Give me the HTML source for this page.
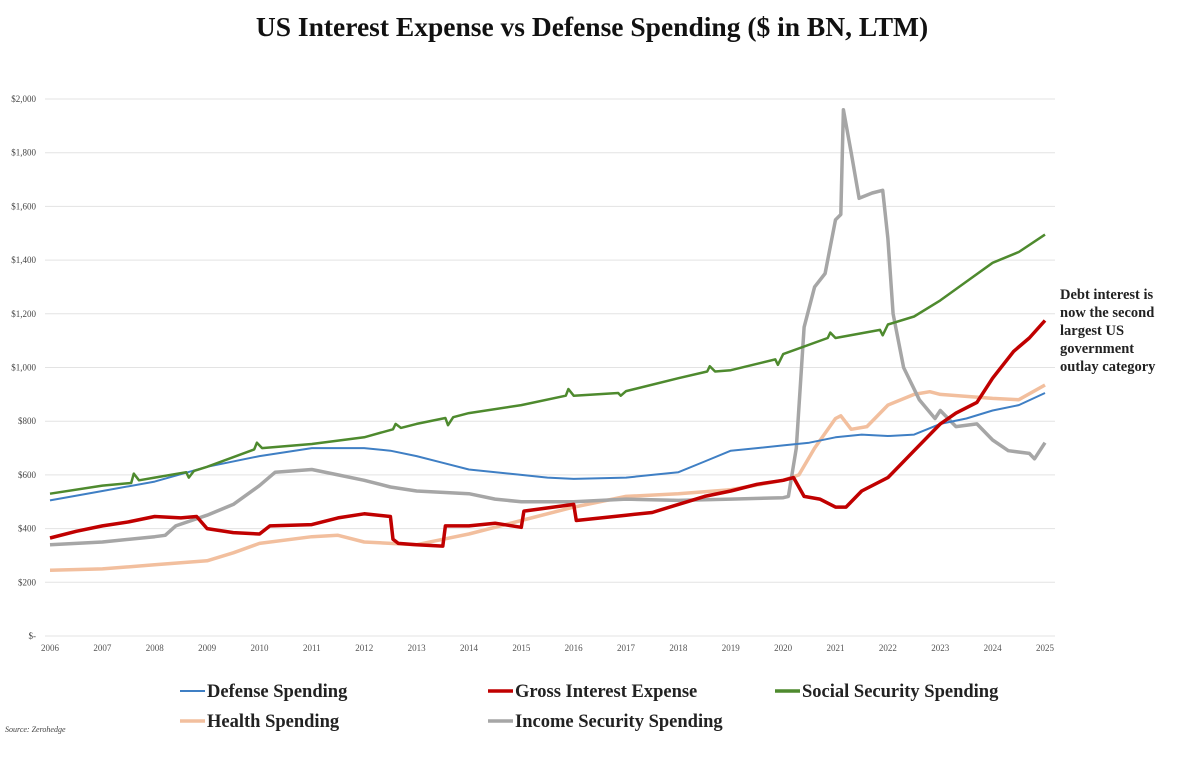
<!DOCTYPE html>
<html><head><meta charset="utf-8"><style>
body{margin:0;background:#fff;}
svg text{font-family:"Liberation Serif",serif;}
</style></head><body>
<svg width="1182" height="766" xmlns="http://www.w3.org/2000/svg">
<text x="592" y="36" text-anchor="middle" font-size="27.5" font-weight="bold" fill="#111">US Interest Expense vs Defense Spending ($ in BN, LTM)</text>
<g id="grid"></g><g id="yticks"></g><g id="xticks"></g><g id="series"></g>
<g font-size="14.5" font-weight="bold" fill="#222">
<text x="1060" y="299">Debt interest is</text><text x="1060" y="317">now the second</text><text x="1060" y="335">largest US</text><text x="1060" y="353">government</text><text x="1060" y="371">outlay category</text></g>
<g id="legend" font-size="18.5" font-weight="bold" fill="#222"></g>
<text x="5" y="732" font-size="8" font-style="italic" fill="#444">Source: Zerohedge</text>
</svg>
<script>
const yTickVals=[0,200,400,600,800,1000,1200,1400,1600,1800,2000];
const yTickLabels=["$-","$200","$400","$600","$800","$1,000","$1,200","$1,400","$1,600","$1,800","$2,000"];
const xTickYears=[2006,2007,2008,2009,2010,2011,2012,2013,2014,2015,2016,2017,2018,2019,2020,2021,2022,2023,2024,2025];
const defenseT=[2006,2007,2008,2009,2010,2010.5,2011,2012,2012.5,2013,2013.5,2014,2015,2015.5,2016,2017,2017.5,2018,2018.5,2019,2019.5,2020,2020.5,2021,2021.5,2022,2022.5,2023,2023.5,2024,2024.5,2025];
const defenseV=[505,540,575,630,670,685,700,700,690,670,645,620,600,590,585,590,600,610,650,690,700,710,720,740,750,745,750,790,810,840,860,905];
const socialT=[2006,2007,2007.55,2007.6,2007.7,2008,2008.6,2008.65,2008.75,2009,2009.9,2009.95,2010.05,2011,2012,2012.55,2012.6,2012.7,2013,2013.55,2013.6,2013.7,2014,2015,2015.85,2015.9,2016,2016.85,2016.9,2017,2018,2018.55,2018.6,2018.7,2019,2019.85,2019.9,2020,2020.85,2020.9,2021,2021.85,2021.9,2022,2022.5,2023,2023.5,2024,2024.5,2025];
const socialV=[530,560,570,605,580,590,610,590,615,630,695,720,700,715,740,770,790,775,790,812,785,815,830,860,895,920,895,905,895,912,960,985,1005,985,990,1030,1010,1050,1110,1130,1110,1140,1120,1160,1190,1250,1320,1390,1430,1495];
const interestT=[2006,2006.5,2007,2007.5,2008,2008.5,2008.8,2009,2009.5,2010,2010.2,2011,2011.5,2012,2012.5,2012.55,2012.65,2013,2013.5,2013.55,2014,2014.5,2015,2015.05,2016,2016.05,2017,2017.5,2018,2018.5,2019,2019.5,2020,2020.2,2020.4,2020.7,2021,2021.2,2021.5,2022,2022.5,2023,2023.3,2023.7,2024,2024.4,2024.7,2025];
const interestV=[365,390,410,425,445,440,445,400,385,380,410,415,440,455,445,360,345,340,335,410,410,420,405,465,490,430,450,460,490,520,540,565,580,590,520,510,480,480,540,590,690,790,830,870,960,1060,1110,1175];
const healthT=[2006,2007,2008,2009,2009.5,2010,2011,2011.5,2012,2013,2013.5,2014,2015,2016,2017,2018,2019,2020,2020.3,2020.6,2021,2021.1,2021.3,2021.6,2022,2022.5,2022.8,2023,2024,2024.5,2025];
const healthV=[245,250,265,280,310,345,370,375,350,340,360,380,430,480,520,530,545,580,600,700,810,820,770,780,860,900,910,900,885,880,935];
const incomeT=[2006,2007,2008,2008.2,2008.4,2009,2009.5,2010,2010.3,2011,2011.5,2012,2012.5,2013,2014,2014.5,2015,2016,2017,2018,2019,2020,2020.1,2020.25,2020.4,2020.6,2020.8,2021,2021.1,2021.15,2021.3,2021.45,2021.7,2021.9,2022,2022.1,2022.3,2022.6,2022.9,2023,2023.3,2023.7,2024,2024.3,2024.7,2024.8,2025];
const incomeV=[340,350,370,375,410,450,490,560,610,620,600,580,555,540,530,510,500,500,510,505,510,515,520,700,1150,1300,1350,1550,1570,1960,1800,1630,1650,1660,1480,1200,1000,880,810,840,780,790,730,690,680,660,720];
const seriesNames=["Defense Spending","Gross Interest Expense","Social Security Spending","Health Spending","Income Security Spending"];
const NS="http://www.w3.org/2000/svg";
const X0=50,X1=1045,Y0=636,Y1=99;
const xs=t=>X0+(t-2006)*(X1-X0)/19;
const ys=v=>Y0-v*(Y0-Y1)/2000;
function mk(tag,attrs,parent){const e=document.createElementNS(NS,tag);for(const k in attrs)e.setAttribute(k,attrs[k]);parent.appendChild(e);return e;}
const grid=document.getElementById('grid'),yt=document.getElementById('yticks'),xt=document.getElementById('xticks');
yTickVals.forEach((v,i)=>{
 const l=mk('line',{x1:45,x2:1055,y1:ys(v),y2:ys(v),stroke:'#e3e3e3','stroke-width':1},grid);
 
 
 const t=mk('text',{x:36,y:ys(v)+3,'text-anchor':'end','font-size':9,fill:'#444'},yt);
 t.textContent=yTickLabels[i];
 
 
});
xTickYears.forEach(y=>{
 const t=mk('text',{x:xs(y),y:651,'text-anchor':'middle','font-size':9,fill:'#555'},xt);
 t.textContent=y;
 
 
});
const sg=document.getElementById('series');
const defs=[[healthT,healthV,'#f2bf9e',3.5,'health-line'],[incomeT,incomeV,'#a6a6a6',3.5,'income-security-line'],[defenseT,defenseV,'#3f7fc4',2,'defense-line'],[socialT,socialV,'#4e8a2e',2.5,'social-security-line'],[interestT,interestV,'#c00000',3.5,'interest-line']];
defs.forEach(d=>{
 const pts=d[0].map((t,i)=>xs(t).toFixed(1)+','+ys(d[1][i]).toFixed(1)).join(' ');
 const p=mk('polyline',{points:pts,fill:'none',stroke:d[2],'stroke-width':d[3],'stroke-linejoin':'round'},sg);
 
 
});
const lg=document.getElementById('legend');
const legendColors=['#3f7fc4','#c00000','#4e8a2e','#f2bf9e','#a6a6a6'];
const legendPos=[[180,697],[488,697],[775,697],[180,727],[488,727]];
seriesNames.forEach((n,i)=>{
 const [x,y]=legendPos[i];
 const l=mk('line',{x1:x,x2:x+25,y1:y-6,y2:y-6,stroke:legendColors[i],'stroke-width':i==0?2:3.5},lg);
 
 
 const t=mk('text',{x:x+27,y:y},lg);
 t.textContent=n;
 
 
});
</script>
</body></html>
